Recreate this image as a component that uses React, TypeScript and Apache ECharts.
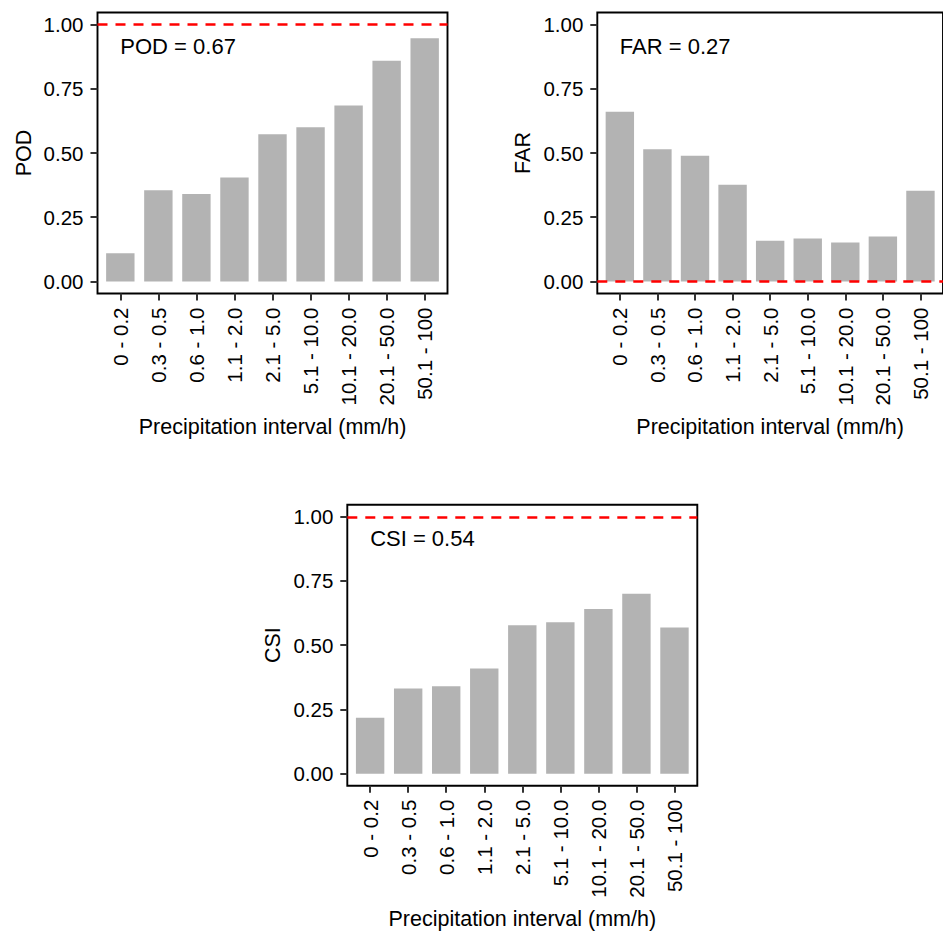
import React, { useEffect, useRef } from "react";
import * as echarts from "echarts";

const categories = [
  "0 - 0.2",
  "0.3 - 0.5",
  "0.6 - 1.0",
  "1.1 - 2.0",
  "2.1 - 5.0",
  "5.1 - 10.0",
  "10.1 - 20.0",
  "20.1 - 50.0",
  "50.1 - 100",
];
const podValues = [0.11, 0.355, 0.34, 0.405, 0.573, 0.6, 0.685, 0.859, 0.947];
const farValues = [0.661, 0.515, 0.489, 0.376, 0.158, 0.167, 0.152, 0.175, 0.353];
const csiValues = [0.218, 0.331, 0.34, 0.409, 0.578, 0.589, 0.641, 0.7, 0.569];
const metricNames = ["POD", "FAR", "CSI"];
const overallScores = [0.67, 0.27, 0.54];
const referenceLines = [1, 0, 1];
const yTicks = [0, 0.25, 0.5, 0.75, 1];
const xTitle = "Precipitation interval (mm/h)";

const FONT = "'Liberation Sans', Arial, sans-serif";

export default function App() {
  const ref = useRef<HTMLDivElement>(null);
  useEffect(() => {
    document.body.style.margin = "0";
    const chart = echarts.init(ref.current!, null, { renderer: "svg" });
    const seriesValues = [podValues, farValues, csiValues];
    const grids = [
      { left: 97.5, top: 12.5, width: 350, height: 281 },
      { left: 597.3, top: 12.5, width: 350, height: 281 },
      { left: 347.3, top: 504.7, width: 350, height: 281 },
    ];
    const catIdx = categories.map((_, i) => i);
    const option: any = {
      animation: false,
      backgroundColor: "#fff",
      textStyle: { fontFamily: FONT },
      grid: grids.map((g) => ({
        ...g,
        show: true,
        borderColor: "#000",
        borderWidth: 1.9,
        containLabel: false,
      })),
      xAxis: grids.map((_, gi) => ({
        type: "value",
        gridIndex: gi,
        min: -0.6,
        max: 8.6,
        name: xTitle,
        nameLocation: "middle",
        nameGap: 122,
        nameTextStyle: { fontSize: 21.5, color: "#000", fontFamily: FONT },
        axisLine: { show: false, onZero: false },
        splitLine: { show: false },
        axisTick: {
          show: true,
          length: 7,
          customValues: catIdx,
          lineStyle: { color: "#333", width: 2 },
        },
        axisLabel: {
          customValues: catIdx,
          rotate: 90,
          margin: 14,
          fontSize: 20.5,
          color: "#000",
          fontFamily: FONT,
          formatter: (v: number) => categories[Math.round(v)] ?? "",
        },
      })),
      yAxis: grids.map((_, gi) => ({
        type: "value",
        gridIndex: gi,
        min: -0.047,
        max: 1.047,
        name: metricNames[gi],
        nameLocation: "middle",
        nameGap: 63,
        nameTextStyle: { fontSize: 21.5, color: "#000", fontFamily: FONT },
        axisLine: { show: false, onZero: false },
        splitLine: { show: false },
        axisTick: {
          show: true,
          length: 7,
          customValues: yTicks,
          lineStyle: { color: "#333", width: 2 },
        },
        axisLabel: {
          customValues: yTicks,
          margin: 14,
          fontSize: 20.5,
          color: "#000",
          fontFamily: FONT,
          formatter: (v: number) => v.toFixed(2),
        },
      })),
      series: seriesValues.map((vals, gi) => ({
        type: "bar",
        xAxisIndex: gi,
        yAxisIndex: gi,
        barWidth: 28.4,
        itemStyle: { color: "#B3B3B3" },
        data: vals.map((v, i) => [i, v]),
        markLine: {
          silent: true,
          symbol: ["none", "none"],
          label: { show: false },
          lineStyle: { color: "#FF0000", type: [10, 8], width: 2.6, opacity: 1 },
          emphasis: { disabled: true },
          data: [{ yAxis: referenceLines[gi] }],
        },
        markPoint: {
          silent: true,
          symbol: "circle",
          symbolSize: 0,
          data: [
            {
              coord: [0, 0.914],
              label: {
                show: true,
                position: "right",
                distance: 0,
                fontSize: 22,
                color: "#000",
                fontFamily: FONT,
                formatter: `${metricNames[gi]} = ${overallScores[gi].toFixed(2)}`,
              },
            },
          ],
        },
      })),
    };
    chart.setOption(option);
    return () => chart.dispose();
  }, []);
  return (
    <div
      ref={ref}
      style={{ position: "absolute", left: 0, top: 0, width: 943, height: 931 }}
    />
  );
}
